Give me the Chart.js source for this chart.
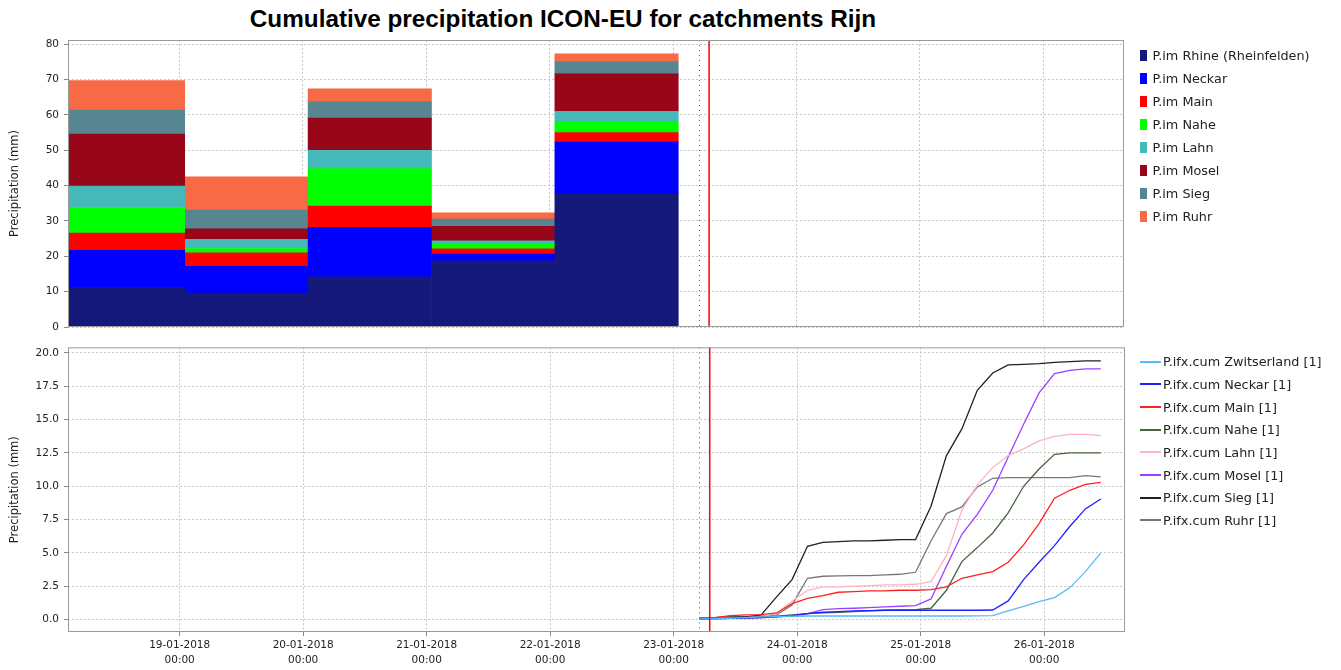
<!DOCTYPE html>
<html lang="en">
<head>
<meta charset="UTF-8">
<title>Cumulative precipitation ICON-EU for catchments Rijn</title>
<script src="https://cdn.jsdelivr.net/npm/chart.js"></script>
<style>
  body { margin: 0; background: #fff; width: 1341px; height: 670px; position: relative; overflow: hidden; font-family: "DejaVu Sans", sans-serif; }
  #title { position: absolute; left: 0; top: 5px; width: 1126px; text-align: center; line-height: 28px;
           font: bold 24.3px "Liberation Sans", Arial, sans-serif; color: #000; }
  canvas { position: absolute; left: 0; }
  .legend { position: absolute; left: 1140px; font-size: 12.8px; color: #222; }
  .legend div { display: flex; align-items: center; white-space: nowrap; }
  #legendTop div { height: 22.9px; }
  #legendTop span { display: inline-block; width: 7px; height: 11px; margin-right: 5.5px; }
  #legendBottom div { height: 22.7px; }
  #legendBottom span { display: inline-block; width: 21px; height: 2px; margin-right: 2px; }
</style>
</head>
<body>
<div id="title">Cumulative precipitation ICON-EU for catchments Rijn</div>
<canvas id="barChart" width="1341" height="340" style="top:0"></canvas>
<canvas id="lineChart" width="1341" height="335" style="top:335px"></canvas>
<div class="legend" id="legendTop" style="top:44.5px"></div>
<div class="legend" id="legendBottom" style="top:350.3px"></div>

<script>
// time is in hours after 18-01-2018 00:00
const axisMin = 2.3, axisMax = 207.7;
const forecastStart = 125;   // dotted line
const nowHour = 127;         // red line

// daily precipitation per catchment (mm), centre of each 24h period
const barHours = [13, 37, 61, 85, 109];
const barNames = ['P.im Rhine (Rheinfelden)', 'P.im Neckar', 'P.im Main', 'P.im Nahe',
                  'P.im Lahn', 'P.im Mosel', 'P.im Sieg', 'P.im Ruhr'];
const barColors = ['#151a7a', '#0000ff', '#ff0000', '#00ff00', '#45b8ba', '#970619', '#578590', '#f86945'];
const imRhine  = [11.2, 9.6, 14.2, 18.7, 37.7];
const imNeckar = [10.5, 7.6, 14.0, 1.9, 14.6];
const imMain   = [4.9, 3.8, 6.0, 1.5, 2.7];
const imNahe   = [7.2, 1.2, 10.6, 1.5, 3.1];
const imLahn   = [6.1, 2.6, 5.2, 0.8, 2.9];
const imMosel  = [14.7, 3.0, 9.1, 4.1, 10.6];
const imSieg   = [6.8, 5.3, 4.6, 2.0, 3.4];
const imRuhr   = [8.3, 9.4, 3.7, 1.8, 2.3];

// cumulative forecast (mm)
const lineHours = [125, 128, 131, 134, 137, 140, 143, 146, 149, 152, 155, 158, 161, 164,
                   167, 170, 173, 176, 179, 182, 185, 188, 191, 194, 197, 200, 203];
const lineNames = ['P.ifx.cum Zwitserland [1]', 'P.ifx.cum Neckar [1]', 'P.ifx.cum Main [1]',
                   'P.ifx.cum Nahe [1]', 'P.ifx.cum Lahn [1]', 'P.ifx.cum Mosel [1]',
                   'P.ifx.cum Sieg [1]', 'P.ifx.cum Ruhr [1]'];
const lineColors = ['#55bbff', '#2020ff', '#ff2020', '#46653a', '#ffb3c1', '#9a40ff', '#202020', '#777777'];
const cumZwitserland = [0.05, 0.08, 0.1, 0.15, 0.2, 0.22, 0.25, 0.27, 0.27, 0.27, 0.27, 0.27, 0.27, 0.27,
                        0.27, 0.27, 0.27, 0.27, 0.28, 0.3, 0.65, 1.0, 1.35, 1.65, 2.4, 3.6, 5.0];
const cumNeckar = [0.05, 0.08, 0.1, 0.12, 0.15, 0.2, 0.3, 0.45, 0.55, 0.6, 0.65, 0.68, 0.7, 0.7,
                   0.7, 0.7, 0.7, 0.7, 0.7, 0.72, 1.4, 3.0, 4.3, 5.55, 7.0, 8.3, 9.05];
const cumMain = [0.1, 0.15, 0.3, 0.35, 0.37, 0.5, 1.2, 1.6, 1.8, 2.05, 2.1, 2.15, 2.15, 2.2,
                 2.2, 2.25, 2.45, 3.1, 3.35, 3.6, 4.3, 5.6, 7.2, 9.1, 9.7, 10.15, 10.3];
const cumNahe = [0.05, 0.08, 0.1, 0.15, 0.2, 0.25, 0.35, 0.45, 0.5, 0.55, 0.6, 0.65, 0.7, 0.72,
                 0.75, 0.85, 2.2, 4.35, 5.4, 6.5, 8.0, 10.0, 11.3, 12.4, 12.5, 12.5, 12.5];
const cumLahn = [0.1, 0.1, 0.12, 0.15, 0.2, 0.45, 1.4, 2.2, 2.45, 2.45, 2.5, 2.55, 2.6, 2.6,
                 2.65, 2.85, 4.8, 8.2, 10.1, 11.4, 12.3, 12.8, 13.4, 13.75, 13.9, 13.9, 13.8];
const cumMosel = [0.05, 0.08, 0.1, 0.12, 0.15, 0.2, 0.28, 0.45, 0.75, 0.82, 0.85, 0.9, 0.95, 1.0,
                  1.05, 1.55, 4.0, 6.4, 7.9, 9.7, 12.2, 14.65, 17.0, 18.45, 18.7, 18.8, 18.8];
const cumSieg = [0.1, 0.15, 0.2, 0.2, 0.35, 1.7, 3.0, 5.5, 5.8, 5.85, 5.9, 5.9, 5.95, 6.0,
                 6.0, 8.5, 12.3, 14.3, 17.2, 18.5, 19.1, 19.15, 19.2, 19.3, 19.35, 19.4, 19.4];
const cumRuhr = [0.1, 0.12, 0.15, 0.2, 0.25, 0.35, 1.1, 3.1, 3.25, 3.28, 3.3, 3.3, 3.35, 3.4,
                 3.55, 5.9, 7.95, 8.45, 9.95, 10.6, 10.65, 10.65, 10.65, 10.65, 10.65, 10.8, 10.7];

const barSeries = [imRhine, imNeckar, imMain, imNahe, imLahn, imMosel, imSieg, imRuhr];
const lineSeries = [cumZwitserland, cumNeckar, cumMain, cumNahe, cumLahn, cumMosel, cumSieg, cumRuhr];

const tickFont = { family: 'DejaVu Sans', size: 10.5, lineHeight: 1.4 };
const titleFont = { family: 'DejaVu Sans', size: 11.5 };

function dayLabel(v) {
  const d = 18 + Math.round(v / 24);
  return [String(d).padStart(2, '0') + '-01-2018', '00:00'];
}

// frame round the plot plus the forecast / now markers
const markers = {
  id: 'markers',
  afterDatasetsDraw(chart) {
    const { ctx, chartArea: a, scales: { x } } = chart;
    ctx.save();
    let px = Math.round(x.getPixelForValue(forecastStart)) + 0.5;
    ctx.setLineDash([1, 4]);
    ctx.strokeStyle = '#555';
    ctx.lineWidth = 1;
    ctx.beginPath(); ctx.moveTo(px, a.top); ctx.lineTo(px, a.bottom); ctx.stroke();
    px = x.getPixelForValue(nowHour);
    ctx.setLineDash([]);
    ctx.strokeStyle = '#ff0000';
    ctx.lineWidth = 1.5;
    ctx.beginPath(); ctx.moveTo(px, a.top); ctx.lineTo(px, a.bottom); ctx.stroke();
    ctx.strokeStyle = '#9a9a9a';
    ctx.lineWidth = 1;
    ctx.strokeRect(a.left + 0.5, a.top + 0.5, a.width - 1, a.height - 1);
    ctx.restore();
  }
};

function yAxis(min, max, step, digits) {
  return {
    min: min, max: max,
    afterFit: s => { s.width = 60; },
    border: { display: false, dash: [2, 2] },
    grid: { color: '#c8c8c8', tickColor: '#888', tickLength: 4 },
    ticks: { stepSize: step, includeBounds: false, padding: 5, color: '#222', font: tickFont,
             callback: v => v.toFixed(digits) },
    title: { display: true, text: 'Precipitation (mm)', color: '#222', font: titleFont, padding: 0 }
  };
}

function xAxis(showLabels, height) {
  return {
    type: 'linear', min: axisMin, max: axisMax, offset: false,
    afterFit: s => { s.height = height; },
    border: { display: false, dash: [2, 2] },
    grid: { color: '#c8c8c8', offset: false, drawTicks: showLabels, tickColor: '#888', tickLength: 4 },
    ticks: { display: showLabels, stepSize: 24, includeBounds: false, maxRotation: 0, autoSkip: false,
             padding: 2, color: '#222', font: tickFont, callback: dayLabel }
  };
}

new Chart(document.getElementById('barChart'), {
  type: 'bar',
  data: {
    datasets: barNames.map((name, i) => ({
      label: name,
      data: barHours.map((h, j) => ({ x: h, y: barSeries[i][j] })),
      backgroundColor: barColors[i],
      borderWidth: 0,
      categoryPercentage: 1,
      barPercentage: 1,
      clip: 0
    }))
  },
  options: {
    responsive: false, animation: false, devicePixelRatio: 1,
    layout: { padding: { left: 8, right: 217, top: 40, bottom: 0 } },
    plugins: { legend: { display: false }, tooltip: { enabled: false } },
    scales: {
      x: Object.assign(xAxis(false, 13), { stacked: true }),
      y: Object.assign(yAxis(0, 81.2, 10, 0), { stacked: true })
    }
  },
  plugins: [markers]
});

new Chart(document.getElementById('lineChart'), {
  type: 'line',
  data: {
    datasets: lineNames.map((name, i) => ({
      label: name,
      data: lineHours.map((h, j) => ({ x: h, y: lineSeries[i][j] })),
      borderColor: lineColors[i],
      borderWidth: 1.3,
      pointRadius: 0,
      tension: 0,
      fill: false
    }))
  },
  options: {
    responsive: false, animation: false, devicePixelRatio: 1,
    layout: { padding: { left: 8, right: 216, top: 12, bottom: 0 } },
    plugins: { legend: { display: false }, tooltip: { enabled: false } },
    scales: {
      x: xAxis(true, 38),
      y: yAxis(-0.93, 20.42, 2.5, 1)
    }
  },
  plugins: [markers]
});

// legends
const legTop = document.getElementById('legendTop');
barNames.forEach((name, i) => {
  const row = document.createElement('div');
  row.innerHTML = '<span style="background:' + barColors[i] + '"></span>' + name;
  legTop.appendChild(row);
});
const legBottom = document.getElementById('legendBottom');
lineNames.forEach((name, i) => {
  const row = document.createElement('div');
  row.innerHTML = '<span style="background:' + lineColors[i] + '"></span>' + name;
  legBottom.appendChild(row);
});
</script>
</body>
</html>
